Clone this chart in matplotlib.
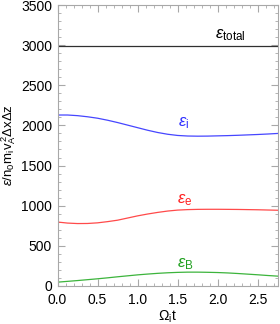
import numpy as np
import matplotlib.pyplot as plt
from matplotlib.ticker import MultipleLocator

plt.rcParams['font.family'] = ['Liberation Sans', 'DejaVu Sans']
plt.rcParams['mathtext.fontset'] = 'custom'
plt.rcParams['mathtext.rm'] = 'Liberation Sans'
plt.rcParams['mathtext.it'] = 'Liberation Sans:italic'
plt.rcParams['mathtext.default'] = 'regular'

# time samples (Omega_i t)
t = [0.0, 0.125, 0.25, 0.375, 0.5, 0.625, 0.75, 0.875, 1.0, 1.125, 1.25, 1.375,
     1.5, 1.625, 1.75, 1.875, 2.0, 2.125, 2.25, 2.375, 2.5, 2.625, 2.75]

e_total = [2985] * len(t)
e_i = [2130, 2130, 2122, 2108, 2090, 2065, 2036, 2004, 1972, 1940, 1912, 1890,
       1875, 1868, 1866, 1867, 1870, 1873, 1877, 1882, 1887, 1893, 1900]
e_e = [795, 782, 776, 777, 785, 800, 818, 845, 872, 895, 915, 932,
       944, 950, 953, 954, 954, 953, 952, 950, 948, 945, 942]
e_B = [45, 55, 65, 76, 87, 99, 112, 124, 136, 146, 155, 162,
       167, 170, 170, 168, 165, 160, 153, 145, 137, 128, 120]

fig = plt.figure(figsize=(2.8, 3.24), dpi=100)
ax = fig.add_axes([0.2054, 0.118, 0.7866, 0.866])

ax.plot(t, e_total, color='#303030', lw=0.9)
ax.plot(t, e_i, color='#4646ff', lw=0.9)
ax.plot(t, e_e, color='#ff4a4a', lw=0.9)
ax.plot(t, e_B, color='#3cb43c', lw=0.9)

fs = 10
lfs = 12
ax.text(2.16, 3120, r'$\mathit{\varepsilon}_{\mathrm{total}}$', color='black', fontsize=lfs, ha='center', va='center')
ax.text(1.57, 2025, r'$\mathit{\varepsilon}_{\mathrm{i}}$', color='#3030ff', fontsize=lfs, ha='center', va='center')
ax.text(1.59, 1065, r'$\mathit{\varepsilon}_{\mathrm{e}}$', color='#ff2020', fontsize=lfs, ha='center', va='center')
ax.text(1.59, 265, r'$\mathit{\varepsilon}_{\mathrm{B}}$', color='#20a020', fontsize=lfs, ha='center', va='center')

ax.set_xlim(0, 2.75)
ax.set_ylim(0, 3500)
ax.xaxis.set_major_locator(MultipleLocator(0.5))
ax.xaxis.set_minor_locator(MultipleLocator(0.1))
ax.yaxis.set_major_locator(MultipleLocator(500))
ax.yaxis.set_minor_locator(MultipleLocator(100))
ax.xaxis.set_major_formatter(plt.FormatStrFormatter('%.1f'))

ax.tick_params(which='both', direction='in', top=True, right=True,
               color='#a8a8a8', labelsize=fs, labelcolor='black')
ax.tick_params(which='major', length=5, pad=4)
ax.tick_params(axis='x', which='major', pad=5)
ax.tick_params(which='minor', length=2.5)
for s in ax.spines.values():
    s.set_color('#a8a8a8')
    s.set_linewidth(0.8)

ax.set_xlabel(r'$\Omega_i t$', fontsize=fs, labelpad=1)
ax.set_ylabel(r'$\mathit{\varepsilon}/n_0 m_i v_A^{\,2} \Delta x \Delta z$', fontsize=9.5, labelpad=2)

fig.savefig('out.png', dpi=100)
